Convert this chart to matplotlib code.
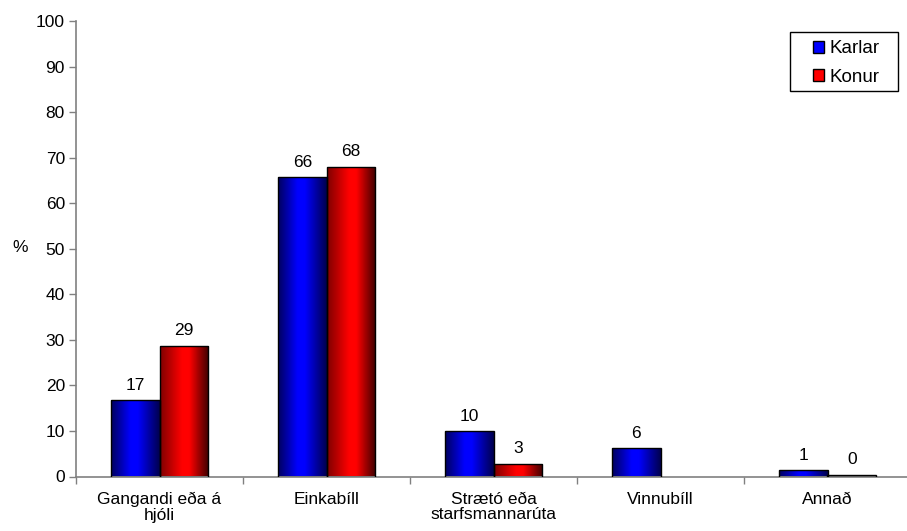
import matplotlib
matplotlib.use('Agg')
import matplotlib.pyplot as plt
import numpy as np
from matplotlib.colors import LinearSegmentedColormap
from matplotlib.patches import Patch, Rectangle

plt.rcParams['font.family'] = ['Liberation Sans', 'DejaVu Sans']

categories = ['Gangandi eða á\nhjóli', 'Einkabíll', 'Strætó eða\nstarfsmannarúta', 'Vinnubíll', 'Annað']
karlar = [16.7, 65.7, 9.9, 6.3, 1.4]
konur = [28.7, 68.0, 2.8, np.nan, 0.4]
karlar_labels = ['17', '66', '10', '6', '1']
konur_labels = ['29', '68', '3', '', '0']

W, H = 907, 531
fs = 12.5
fig = plt.figure(figsize=(W / 100, H / 100), dpi=100)
ax = fig.add_axes([76 / W, (531 - 476.5) / H, 835 / W, 455.5 / H])

x = np.arange(len(categories))
bw = 0.29

# horizontal shading like the old Excel bars
blue_cmap = LinearSegmentedColormap.from_list('b', [(0, '#000060'), (0.4, '#0000ff'), (0.55, '#0000ff'), (1, '#000050')])
red_cmap = LinearSegmentedColormap.from_list('r', [(0, '#800000'), (0.45, '#ff0000'), (0.6, '#ff0000'), (1, '#400000')])
grad = np.linspace(0, 1, 64).reshape(1, -1)


def shaded_bars(xs, vals, cmap):
    bars = ax.bar(xs, vals, bw, color='none', edgecolor='black', linewidth=1.0, zorder=3)
    for b in bars:
        h = b.get_height()
        if np.isnan(h) or h <= 0:
            continue
        x0 = b.get_x()
        im = ax.imshow(grad, cmap=cmap, aspect='auto', extent=[x0, x0 + bw, 0, h],
                       interpolation='bicubic', zorder=2)
        im.set_clip_path(b)
    return bars


bk = shaded_bars(x - bw / 2, karlar, blue_cmap)
bf = shaded_bars(x + bw / 2, konur, red_cmap)

for i in range(len(categories)):
    ax.text(x[i] - bw / 2, karlar[i] + 1.6, karlar_labels[i], ha='center', va='bottom', fontsize=fs)
    if not np.isnan(konur[i]):
        ax.text(x[i] + bw / 2, konur[i] + 1.6, konur_labels[i], ha='center', va='bottom', fontsize=fs)

ax.set_xlim(-0.5, len(categories) - 0.5)
ax.set_ylim(0, 100)
ax.set_yticks(range(0, 101, 10))
ax.set_xticks(x)
ax.set_xticklabels(categories, fontsize=12.5, linespacing=1.05)
ax.tick_params(axis='x', length=0, pad=11)
ax.set_xticks(np.arange(-0.5, len(categories), 1), minor=True)
ax.tick_params(axis='x', which='minor', length=5, color='#808080', width=1)
ax.tick_params(axis='y', length=5, color='#808080', width=1, labelsize=fs, pad=3)

for s in ['top', 'right']:
    ax.spines[s].set_visible(False)
for s in ['left', 'bottom']:
    ax.spines[s].set_color('#808080')
    ax.spines[s].set_linewidth(1.2)

fig.text(20 / W, 1 - 248 / H, '%', fontsize=fs, ha='center', va='center')

# legend box drawn separately so the padding can differ left/right vs top/bottom
fig.patches.append(Rectangle((790 / W, 1 - 91 / H), 108 / W, 59 / H, transform=fig.transFigure,
                             facecolor='white', edgecolor='black', linewidth=1.0, zorder=5))
handles = [Patch(facecolor='#0000ff', edgecolor='black'), Patch(facecolor='#ff0000', edgecolor='black')]
leg = fig.legend(handles, ['Karlar', 'Konur'], loc='center left', bbox_to_anchor=(813 / W, 1 - 63 / H),
                 bbox_transform=fig.transFigure, fontsize=13.5, frameon=False,
                 handlelength=0.6, handleheight=0.6, handletextpad=0.3, borderpad=0,
                 labelspacing=0.6, borderaxespad=0)
leg.set_zorder(6)

fig.savefig('out.png', dpi=100)
